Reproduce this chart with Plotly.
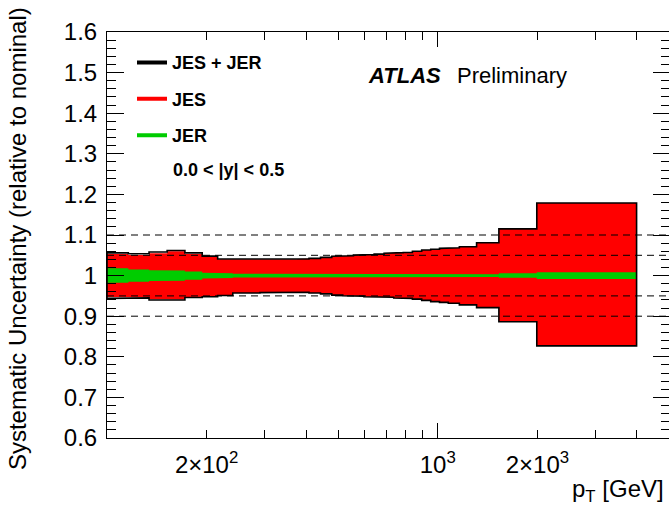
import numpy as np
import plotly.graph_objects as go

# pT bin edges [GeV]
pt_edges = [100, 116, 134, 152, 172, 194, 216, 240, 264, 290, 318, 346, 376, 408,
            442, 478, 516, 556, 598, 642, 688, 736, 786, 838, 894, 952, 1012, 1076,
            1162, 1310, 1530, 1992, 3990]

# Total (JES + JER) envelope
total_up = [1.056, 1.054, 1.058, 1.062, 1.056, 1.048, 1.041, 1.0395, 1.0395, 1.0395,
            1.040, 1.0405, 1.041, 1.0425, 1.045, 1.0475, 1.049, 1.0505, 1.052, 1.053,
            1.055, 1.0565, 1.057, 1.060, 1.063, 1.065, 1.067, 1.0685, 1.071, 1.081,
            1.115, 1.179]
total_dn = [0.944, 0.945, 0.940, 0.940, 0.946, 0.948, 0.951, 0.957, 0.957, 0.958,
            0.959, 0.959, 0.959, 0.957, 0.955, 0.952, 0.9505, 0.9495, 0.948, 0.947,
            0.9465, 0.945, 0.944, 0.942, 0.939, 0.936, 0.934, 0.932, 0.928, 0.921,
            0.8865, 0.827]

# JES envelope
jes_up = [1.053, 1.051, 1.055, 1.060, 1.053, 1.047, 1.0405, 1.039, 1.0395, 1.0395,
          1.040, 1.0405, 1.041, 1.0425, 1.045, 1.0475, 1.049, 1.0505, 1.052, 1.053,
          1.055, 1.0565, 1.057, 1.060, 1.063, 1.065, 1.067, 1.0685, 1.071, 1.081,
          1.115, 1.179]
jes_dn = [0.947, 0.947, 0.942, 0.941, 0.947, 0.948, 0.951, 0.957, 0.957, 0.958,
          0.959, 0.959, 0.959, 0.957, 0.955, 0.952, 0.9505, 0.9495, 0.948, 0.947,
          0.9465, 0.945, 0.944, 0.942, 0.939, 0.936, 0.934, 0.932, 0.928, 0.921,
          0.8865, 0.827]

# JER envelope
jer_up = [1.0178, 1.0153, 1.0133, 1.0125, 1.0100, 1.0073, 1.0058, 1.0048, 1.0045,
          1.0045, 1.0044, 1.0044, 1.0043, 1.0043, 1.0042, 1.0042, 1.0042, 1.0041,
          1.0041, 1.0040, 1.0040, 1.0040, 1.0039, 1.0038, 1.0038, 1.0038, 1.0037,
          1.0037, 1.0036, 1.0032, 1.0055, 1.0082]
jer_dn = [0.9822, 0.9847, 0.9867, 0.9875, 0.9900, 0.9927, 0.9942, 0.9952, 0.9955,
          0.9955, 0.9956, 0.9956, 0.9957, 0.9957, 0.9958, 0.9958, 0.9958, 0.9959,
          0.9959, 0.9960, 0.9960, 0.9960, 0.9961, 0.9962, 0.9962, 0.9962, 0.9963,
          0.9963, 0.9964, 0.9968, 0.9945, 0.9918]

# reference levels drawn as dashed lines
ref_levels = [1.1, 1.05, 0.95, 0.9]

# axis ticks
y_tickvals = [0.6, 0.7, 0.8, 0.9, 1.0, 1.1, 1.2, 1.3, 1.4, 1.5, 1.6]
y_ticktext = ["0.6", "0.7", "0.8", "0.9", "1", "1.1", "1.2", "1.3", "1.4", "1.5", "1.6"]
x_labelvals = [200, 1000, 2000]
x_labeltext = ["2\u00d710<sup>2</sup>", "10<sup>3</sup>", "2\u00d710<sup>3</sup>"]
x_minorvals = [200, 300, 400, 500, 600, 700, 800, 900, 2000, 3000, 4000]
x_range = [np.log10(100), np.log10(5000)]

FONT = "Liberation Sans, Arial, Helvetica, sans-serif"
RED = "#ff0000"
GREEN = "#00cc00"


def step_path(edges, vals):
    xs, ys = [], []
    for i, v in enumerate(vals):
        xs += [edges[i], edges[i + 1]]
        ys += [v, v]
    return xs, ys


def band(edges, up, dn):
    xu, yu = step_path(edges, up)
    xd, yd = step_path(edges, dn)
    return xu + xd[::-1] + [xu[0]], yu + yd[::-1] + [yu[0]]


fig = go.Figure()

bx, by = band(pt_edges, jes_up, jes_dn)
fig.add_trace(go.Scatter(x=bx, y=by, mode="lines", fill="toself", fillcolor=RED,
                         line=dict(width=0, color=RED), hoverinfo="skip",
                         showlegend=False))

gx, gy = band(pt_edges, jer_up, jer_dn)
fig.add_trace(go.Scatter(x=gx, y=gy, mode="lines", fill="toself", fillcolor=GREEN,
                         line=dict(width=0, color=GREEN), hoverinfo="skip",
                         showlegend=False))

tx, ty = band(pt_edges, total_up, total_dn)
fig.add_trace(go.Scatter(x=tx, y=ty, mode="lines",
                         line=dict(width=1.6, color="black"), hoverinfo="skip",
                         showlegend=False))

# legend entries
for name, col, grp in [("JES + JER", "black", "a"), ("JES", RED, "b"), ("JER", GREEN, "c")]:
    fig.add_trace(go.Scatter(x=[None], y=[None], mode="lines", name=name,
                             legendgroup=grp, line=dict(color=col, width=4)))

# carrier for the label axis and the right-hand tick axis
fig.add_trace(go.Scatter(x=[None], y=[None], xaxis="x2", yaxis="y2",
                         showlegend=False, hoverinfo="skip"))

for lvl in ref_levels:
    fig.add_shape(type="line", xref="paper", x0=0, x1=1, yref="y", y0=lvl, y1=lvl,
                  line=dict(color="black", width=1, dash="7px,5px"), layer="above")

fig.update_layout(
    width=669, height=508, autosize=False,
    margin=dict(l=107, r=0, t=32, b=70, pad=0),
    paper_bgcolor="white", plot_bgcolor="white",
    font=dict(family=FONT, color="black"),
    xaxis=dict(type="log", range=x_range, showline=True, linecolor="black", linewidth=1,
               mirror="ticks", ticks="inside", tickvals=[1000], ticklen=15,
               tickcolor="black", tickwidth=1, showticklabels=False, showgrid=False,
               zeroline=False,
               minor=dict(tickmode="array", tickvals=x_minorvals, ticks="inside",
                          ticklen=8, tickcolor="black", tickwidth=1, showgrid=False)),
    xaxis2=dict(type="log", range=x_range, overlaying="x", anchor="y", side="bottom",
                tickmode="array", tickvals=x_labelvals, ticktext=x_labeltext,
                ticks="", showline=False, showgrid=False, zeroline=False,
                tickfont=dict(size=24, family=FONT), ticklabelstandoff=10),
    yaxis=dict(range=[0.6, 1.6], showline=True, linecolor="black", linewidth=1,
               mirror=False, ticks="inside", tickmode="array", tickvals=y_tickvals,
               ticktext=y_ticktext, ticklen=17, tickcolor="black", tickwidth=1,
               showgrid=False, zeroline=False, tickfont=dict(size=24, family=FONT),
               ticklabelstandoff=4,
               minor=dict(dtick=0.02, ticks="inside", ticklen=9, tickcolor="black",
                          tickwidth=1, showgrid=False)),
    yaxis2=dict(range=[0.6, 1.6], overlaying="y", anchor="x", side="right",
                showline=False, ticks="inside", tickmode="array", tickvals=y_tickvals,
                ticklen=16, tickcolor="black", tickwidth=1, showticklabels=False,
                showgrid=False, zeroline=False,
                minor=dict(dtick=0.02, ticks="inside", ticklen=8, tickcolor="black",
                           tickwidth=1, showgrid=False)),
    legend=dict(x=(132 - 107) / 562, y=0.97, xanchor="left", yanchor="top",
                bgcolor="rgba(0,0,0,0)", borderwidth=0, tracegroupgap=10,
                traceorder="grouped", font=dict(size=18, family=FONT, weight="bold")),
    showlegend=True,
)

fig.add_annotation(text="Systematic Uncertainty (relative to nominal)", textangle=-90,
                   xref="paper", yref="paper", x=(17 - 107) / 562, y=0.49,
                   xanchor="center", yanchor="middle", showarrow=False,
                   font=dict(size=24, family=FONT))
fig.add_annotation(text="p<sub>T</sub> [GeV]", xref="paper", yref="paper",
                   x=(666 - 107) / 562, y=(438 - 490) / 406, xanchor="right",
                   yanchor="middle", showarrow=False, font=dict(size=24, family=FONT))
fig.add_annotation(text="<b><i>ATLAS</i></b>", xref="paper", yref="paper",
                   x=(366 - 107) / 562, y=(438 - 75) / 406, xanchor="left",
                   yanchor="middle", showarrow=False, font=dict(size=22, family=FONT))
fig.add_annotation(text="Preliminary", xref="paper", yref="paper",
                   x=(455 - 107) / 562, y=(438 - 75) / 406, xanchor="left",
                   yanchor="middle", showarrow=False, font=dict(size=22, family=FONT))
fig.add_annotation(text="<b>0.0 &lt; |y| &lt; 0.5</b>", xref="paper", yref="paper",
                   x=(171 - 107) / 562, y=(438 - 170) / 406, xanchor="left",
                   yanchor="middle", showarrow=False, font=dict(size=18, family=FONT))

fig.write_html("out.html")
